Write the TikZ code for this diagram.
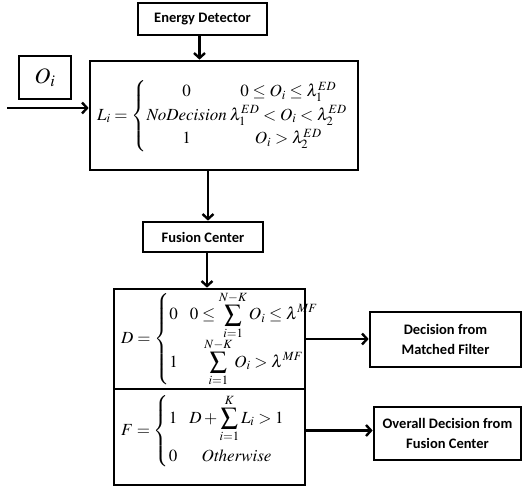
\documentclass[tikz,border=0pt]{standalone}
\usepackage{mathptmx}
\usepackage[no-math]{fontspec}
\setmainfont{Liberation Serif}
\newfontfamily\labelfont{Carlito}
\usetikzlibrary{arrows.meta}

\begin{document}
\begin{tikzpicture}[x=1pt,y=-1pt,
  box/.style={draw, line width=2.7pt, inner sep=0pt},
  tag/.style={font=\labelfont\bfseries\fontsize{14.5}{20}\selectfont, align=center},
  eqn/.style={font=\fontsize{17}{20}\selectfont, inner sep=0pt},
  flow/.style={line width=2.7pt, -{Straight Barb[length=5pt,width=11pt,line width=2.4pt]}}]
  \useasboundingbox (0,0) rectangle (523,490);

  % detector stage
  \node[box, tag, minimum width=129pt, minimum height=32pt] (ed) at (202.5,19) {Energy Detector};
  \node[box, minimum width=268pt, minimum height=109pt] (lbox) at (224,115.5) {};
  \node[box, minimum width=52pt, minimum height=43pt, font=\fontsize{22}{24}\selectfont] (oi) at (45,77.5) {$O_i$};
  \node[eqn, anchor=west] (leq) at (97,116)
    {$L_i = \left\{\begin{array}{@{}c@{\hspace{3pt}}c@{}}
      0 & 0\le O_i \le \lambda_1^{ED}\\[3pt]
      \mathit{NoDecision} & \lambda_1^{ED} < O_i < \lambda_2^{ED}\\[3pt]
      1 & O_i > \lambda_2^{ED}
    \end{array}\right.$};

  % fusion stage
  \node[box, tag, minimum width=120pt, minimum height=30pt] (fc) at (203,237) {Fusion Center};
  \node[box, minimum width=191pt, minimum height=100pt] (dbox) at (209.5,339) {};
  \node[box, minimum width=191pt, minimum height=96pt] (fbox) at (209.5,437) {};
  \node[eqn, anchor=west] (deq) at (121,339)
    {$D = \left\{\begin{array}{@{}l@{\hspace{12pt}}c@{}}
      0 & 0\le \displaystyle\sum_{i=1}^{N-K} O_i \le \lambda^{MF}\\[8pt]
      1 & \displaystyle\sum_{i=1}^{N-K} O_i > \lambda^{MF}
    \end{array}\right.$};
  \node[eqn, anchor=west] (feq) at (121,431)
    {$F = \left\{\begin{array}{@{}l@{\hspace{12pt}}c@{}}
      1 & D + \displaystyle\sum_{i=1}^{K} L_i > 1\\[18pt]
      0 & \mathit{Otherwise}
    \end{array}\right.$};

  % outputs
  \node[box, tag, minimum width=151pt, minimum height=55pt] (mf) at (445.5,339.5) {Decision from\\Matched Filter};
  \node[box, tag, minimum width=147pt, minimum height=53pt] (ov) at (447.5,433.5) {Overall Decision from\\Fusion Center};

  % connectors
  \coordinate (in) at (7,108);
  \draw[flow] (in) -- (in -| lbox.west);
  \draw[flow] ([xshift=-3pt]ed.south) -- ([xshift=-3pt]ed.south |- lbox.north);
  \draw[flow] ([xshift=5pt]fc.north |- lbox.south) -- ([xshift=5pt]fc.north);
  \draw[flow] ([xshift=4pt]fc.south) -- ([xshift=4pt]fc.south |- dbox.north);
  \draw[flow] (dbox.east) -- (dbox.east -| mf.west);
  \draw[flow] ([yshift=3pt]ov.west -| fbox.east) -- ([yshift=3pt]ov.west);
\end{tikzpicture}
\end{document}
